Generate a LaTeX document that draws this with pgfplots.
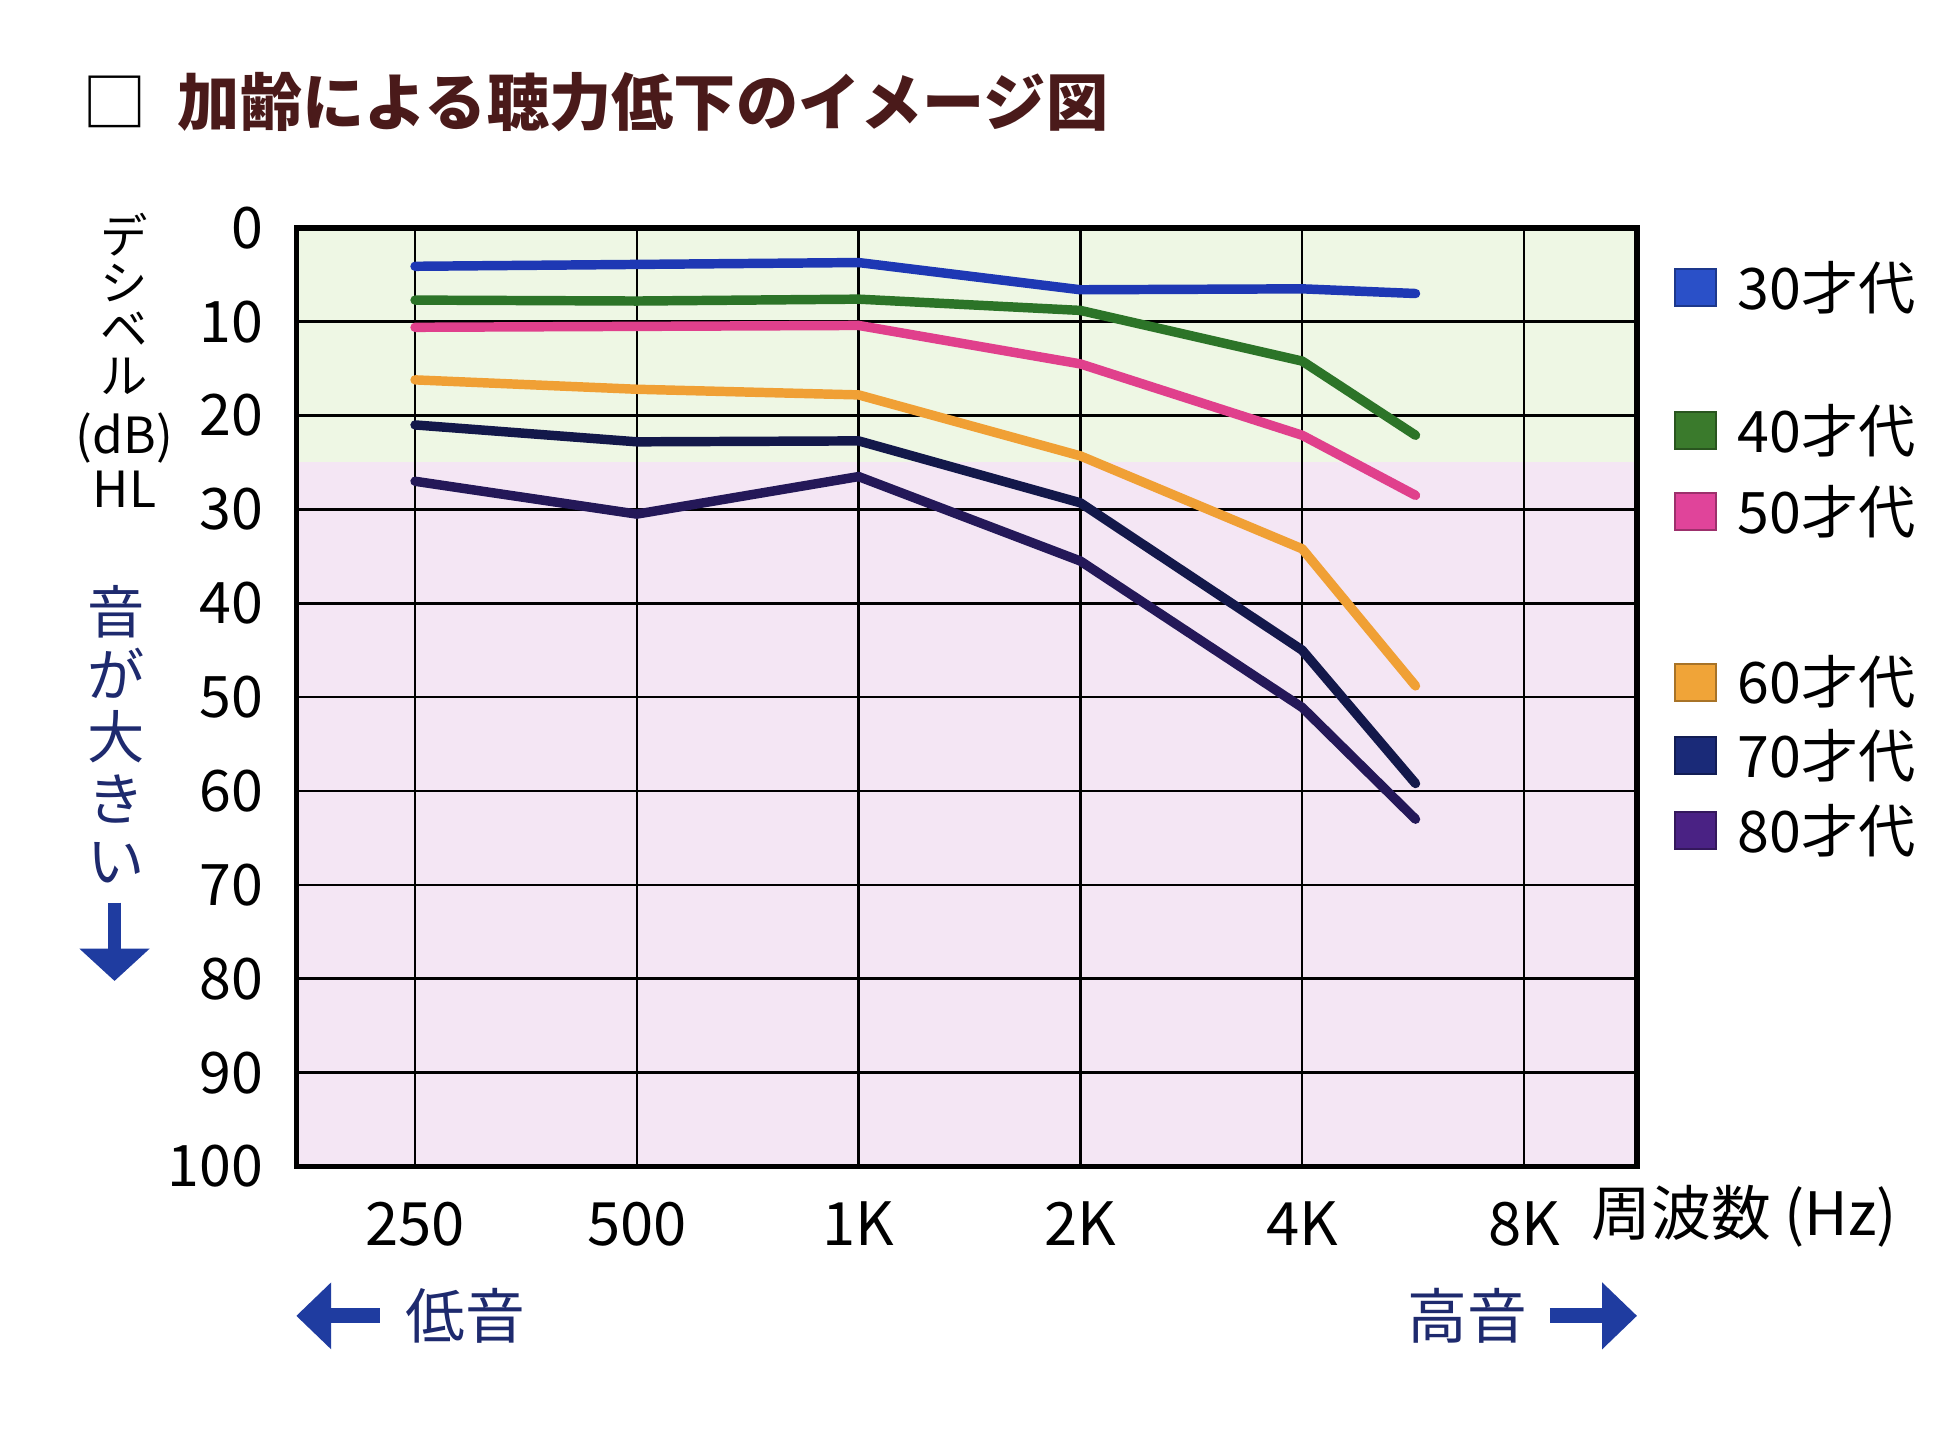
\documentclass[border=0pt]{standalone}
\usepackage{pgfplots}
\pgfplotsset{compat=1.18}
\usepackage{fontspec}
\setmainfont{Noto Sans CJK JP}
\usetikzlibrary{arrows.meta}
\definecolor{c30}{HTML}{1E38B4}
\definecolor{c40}{HTML}{2C7428}
\definecolor{c50}{HTML}{E0408C}
\definecolor{c60}{HTML}{F0A035}
\definecolor{c70}{HTML}{13184A}
\definecolor{c80}{HTML}{241858}
\definecolor{l30}{HTML}{2A50C8}
\definecolor{l40}{HTML}{3A7A2C}
\definecolor{l50}{HTML}{E0449A}
\definecolor{l60}{HTML}{F0A438}
\definecolor{l70}{HTML}{1A2A78}
\definecolor{l80}{HTML}{4A2284}
\definecolor{bggreen}{HTML}{EEF7E4}
\definecolor{bgpink}{HTML}{F4E6F4}
\definecolor{titlec}{HTML}{4A1A1A}
\definecolor{navy}{HTML}{1E2A6E}
\definecolor{arrowblue}{HTML}{1F3CA0}
\begin{document}
\begin{tikzpicture}[x=1bp,y=1bp]
\useasboundingbox (0,0) rectangle (392,287.25);
\fill[white] (0,0) rectangle (392,287.25);
% background bands of the plot area
\fill[bgpink] (59.5,53) rectangle (328.75,194.375);
\fill[bggreen] (59.5,194.375) rectangle (328.75,241.5);
\begin{axis}[
  scale only axis,
  width=269.25bp, height=188.5bp,
  at={(59.5bp,53bp)}, anchor=south west,
  xmode=log, log basis x=2,
  xmin=172.5, xmax=11390,
  ymin=0, ymax=100, y dir=reverse,
  xtick={250,500,1000,2000,4000,8000},
  xticklabels={250,500,1K,2K,4K,8K},
  ytick={0,10,20,30,40,50,60,70,80,90,100},
  yticklabels={0,10,20,30,40,50,60,70,80,90,100},
  minor tick num=0,
  grid=major,
  major grid style={black, line width=0.5bp},
  major tick length=0pt,
  axis line style={black, line width=1.1bp},
  xticklabel style={anchor=center, yshift=-11.5bp, font=\fontsize{12bp}{14bp}\selectfont},
  yticklabel style={anchor=east, inner sep=0pt, xshift=-6.5bp, font=\fontsize{11.5bp}{14bp}\selectfont},
  every axis plot/.append style={line width=1.9bp, line join=round, line cap=round},
  clip=false,
]
\addplot[c30] coordinates {(250,4.1)(500,3.9)(1000,3.7)(2000,6.6)(4000,6.5)(5700,7.0)};
\addplot[c40] coordinates {(250,7.7)(500,7.8)(1000,7.6)(2000,8.8)(4000,14.2)(5700,22.1)};
\addplot[c50] coordinates {(250,10.6)(500,10.5)(1000,10.4)(2000,14.5)(4000,22.1)(5700,28.5)};
\addplot[c60] coordinates {(250,16.2)(500,17.2)(1000,17.8)(2000,24.3)(4000,34.2)(5700,48.8)};
\addplot[c70] coordinates {(250,21.0)(500,22.8)(1000,22.7)(2000,29.3)(4000,45.0)(5700,59.2)};
\addplot[c80] coordinates {(250,27.0)(500,30.5)(1000,26.5)(2000,35.5)(4000,51.1)(5700,63.0)};
\end{axis}
% title
\node[inner sep=0pt] at (23,266.75) {\fontsize{13bp}{13bp}\selectfont □};
\node[anchor=west, inner sep=0pt, text=titlec] at (35.5,266.75) {\fontsize{12.5bp}{13bp}\selectfont\bfseries 加齢による聴力低下のイメージ図};
% y axis label
\node[align=center, inner sep=0pt, font=\fontsize{9.5bp}{9.33bp}\selectfont] at (25,226.25) {デ\\シ\\ベ\\ル};
\node[inner sep=0pt, font=\fontsize{10bp}{12bp}\selectfont] at (25,199.25) {(dB)};
\node[inner sep=0pt, font=\fontsize{10bp}{12bp}\selectfont] at (25,189) {HL};
\node[align=center, inner sep=0pt, text=navy, font=\fontsize{11.5bp}{12.5bp}\selectfont] at (23.25,139.75) {音\\が\\大\\き\\い};
\draw[arrowblue, line width=2.5bp, -{Triangle[width=13.75bp,length=6.5bp]}] (23,106) -- (23,90.25);
% x axis extra labels
\node[anchor=west, inner sep=0pt, font=\fontsize{12bp}{14bp}\selectfont] at (319.5,43) {周波数 (Hz)};
\draw[arrowblue, line width=3bp, -{Triangle[width=13bp,length=7bp]}] (76.25,23) -- (59.5,23);
\node[inner sep=0pt, text=navy, font=\fontsize{12bp}{14bp}\selectfont] at (93.5,23) {低音};
\draw[arrowblue, line width=3bp, -{Triangle[width=13bp,length=7bp]}] (311.25,23) -- (328.75,23);
\node[inner sep=0pt, text=navy, font=\fontsize{12bp}{14bp}\selectfont] at (294.75,23) {高音};
% legend
\foreach \c/\yy/\t in {l30/229.5/30才代, l40/200.75/40才代, l50/184.5/50才代, l60/150.25/60才代, l70/135.5/70才代, l80/120.5/80才代}{
  \node[fill=\c, draw=\c!70!black, line width=0.4bp, minimum width=8.25bp, minimum height=7.5bp, inner sep=0pt] at (340.4,\yy) {};
  \node[anchor=west, inner sep=0pt, font=\fontsize{11.5bp}{14bp}\selectfont] at (348.75,\yy) {\t};
}
\end{tikzpicture}
\end{document}
